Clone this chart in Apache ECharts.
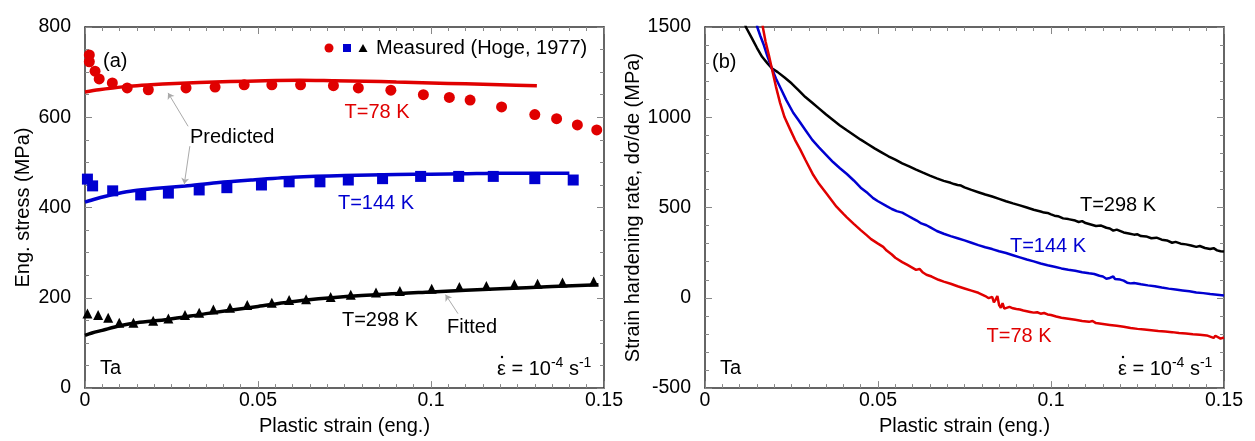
<!DOCTYPE html>
<html>
<head>
<meta charset="utf-8">
<script src="https://cdn.jsdelivr.net/npm/echarts@6/dist/echarts.min.js"></script>
<style>
html, body { margin: 0; padding: 0; background: #fff; }
#chart { width: 1255px; height: 441px; }
</style>
</head>
<body>
<div id="chart"></div>
<script>
// ---- data ----
// panel (a): measured points (Hoge, 1977)
let measured78 = [[0.00125,738],[0.00125,723],[0.0029,702],[0.0041,685],[0.0079,676],[0.0122,665],[0.0183,661],[0.0292,665],[0.0376,667],[0.046,672],[0.054,672],[0.0623,672],[0.0718,670],[0.079,665],[0.0884,660],[0.0978,650],[0.1053,644],[0.1113,638],[0.1204,623],[0.130,606],[0.1363,597],[0.1423,583],[0.1479,572]];
let measured144 = [[0.0007,463],[0.0022,448],[0.008,437],[0.0161,428],[0.0241,432],[0.033,439],[0.041,444],[0.051,450],[0.059,457],[0.0679,457],[0.0761,461],[0.086,464],[0.097,469],[0.108,469],[0.118,469],[0.130,464],[0.1411,461]];
let measured298 = [[0.0007,165],[0.0038,162],[0.0067,156],[0.0099,145],[0.014,145],[0.0197,149],[0.0241,154],[0.0289,162],[0.033,167],[0.0371,174],[0.0419,178],[0.0469,184],[0.054,189],[0.059,195],[0.0639,197],[0.071,202],[0.0768,207],[0.0841,212],[0.091,215],[0.1002,220],[0.1082,224],[0.116,226],[0.1241,230],[0.1308,231],[0.138,234],[0.147,236]];
// panel (a): model curves
let predicted78 = [[0,656],[0.004,661],[0.008,665],[0.013,669],[0.019,672],[0.026,675],[0.033,677],[0.042,679],[0.052,681],[0.062,682],[0.072,681],[0.081,680],[0.09,678],[0.1,676],[0.11,674],[0.12,672],[0.1306,670]];
let predicted144 = [[0,412],[0.003,419],[0.006,425],[0.0095,431],[0.014,437],[0.02,442],[0.029,448],[0.038,455],[0.048,461],[0.06,467],[0.075,471],[0.09,473],[0.1,474],[0.11,475],[0.12,476],[0.13,476],[0.14,476]];
let fitted298 = [[0,117],[0.002,122],[0.005,128],[0.01,138],[0.015,145],[0.024,152],[0.035,165],[0.05,181],[0.064,195],[0.08,205],[0.1,213],[0.12,220],[0.135,225],[0.1484,229]];
// panel (b): strain hardening rate
let rate298 = [[0.0105,1600],[0.0118,1500],[0.0135,1440],[0.015,1385],[0.0165,1335],[0.018,1300],[0.0193,1272],[0.021,1250],[0.023,1220],[0.025,1188],[0.027,1150],[0.029,1112],[0.031,1080],[0.0315,1083],[0.033,1048],[0.035,1015],[0.037,985],[0.039,955],[0.041,928],[0.043,902],[0.045,876],[0.047,852],[0.049,828],[0.051,806],[0.053,784],[0.055,765],[0.057,745],[0.059,728],[0.061,710],[0.063,693],[0.065,677],[0.067,662],[0.069,648],[0.071,637],[0.072,630],[0.073,625],[0.074,622],[0.075,612],[0.077,598],[0.079,585],[0.081,572],[0.083,561],[0.085,548],[0.087,535],[0.089,523],[0.091,512],[0.093,500],[0.095,488],[0.097,478],[0.098,472],[0.099,470],[0.1,462],[0.101,455],[0.102,452],[0.1035,440],[0.105,436],[0.107,428],[0.108,420],[0.109,425],[0.110,414],[0.1115,406],[0.113,398],[0.1145,400],[0.116,388],[0.117,384],[0.118,372],[0.119,378],[0.121,362],[0.1225,356],[0.124,350],[0.125,352],[0.126,342],[0.1275,340],[0.129,330],[0.1305,333],[0.132,322],[0.1335,318],[0.135,305],[0.136,310],[0.1375,300],[0.139,296],[0.1405,290],[0.142,282],[0.143,287],[0.1445,276],[0.146,270],[0.147,275],[0.148,263],[0.149,258],[0.15,256]];
let rate144 = [[0.0145,1600],[0.0151,1500],[0.016,1450],[0.017,1400],[0.018,1340],[0.0193,1272],[0.0205,1215],[0.022,1155],[0.0235,1095],[0.0255,1025],[0.027,985],[0.029,930],[0.031,875],[0.033,832],[0.035,792],[0.037,752],[0.039,718],[0.041,686],[0.043,650],[0.045,610],[0.047,580],[0.0486,552],[0.050,535],[0.0525,508],[0.054,492],[0.0554,480],[0.057,472],[0.0585,456],[0.060,440],[0.0612,428],[0.0625,412],[0.064,402],[0.065,392],[0.067,370],[0.069,355],[0.071,342],[0.073,330],[0.075,318],[0.077,305],[0.079,292],[0.081,280],[0.083,270],[0.085,258],[0.087,248],[0.089,236],[0.091,224],[0.093,212],[0.095,202],[0.097,190],[0.099,180],[0.101,172],[0.103,163],[0.105,156],[0.107,150],[0.109,142],[0.111,136],[0.1125,132],[0.114,122],[0.115,118],[0.116,106],[0.1165,97],[0.117,110],[0.118,118],[0.1185,104],[0.119,95],[0.12,101],[0.121,95],[0.122,84],[0.123,80],[0.124,82],[0.126,75],[0.128,69],[0.13,64],[0.132,57],[0.134,51],[0.136,46],[0.138,41],[0.14,36],[0.142,30],[0.144,26],[0.146,21],[0.148,17],[0.15,13]];
let rate78 = [[0.0163,1600],[0.0167,1500],[0.0175,1420],[0.0185,1340],[0.0193,1272],[0.0205,1170],[0.0217,1080],[0.023,1000],[0.0246,933],[0.026,875],[0.0275,822],[0.029,765],[0.0313,680],[0.033,630],[0.035,580],[0.0362,550],[0.038,505],[0.040,465],[0.041,446],[0.043,410],[0.045,375],[0.0467,347],[0.048,325],[0.050,300],[0.0515,282],[0.0525,262],[0.054,240],[0.055,222],[0.0555,215],[0.057,198],[0.0585,182],[0.060,166],[0.061,155],[0.062,160],[0.063,140],[0.064,128],[0.0655,118],[0.066,121],[0.0675,100],[0.069,90],[0.071,78],[0.073,64],[0.075,52],[0.077,40],[0.079,28],[0.081,10],[0.082,-2],[0.083,5],[0.0835,-25],[0.084,-10],[0.0845,10],[0.085,-40],[0.0855,-55],[0.086,-30],[0.0865,-60],[0.087,-52],[0.088,-50],[0.089,-58],[0.090,-62],[0.091,-65],[0.092,-70],[0.093,-74],[0.094,-78],[0.095,-82],[0.096,-80],[0.097,-88],[0.098,-84],[0.099,-92],[0.1,-95],[0.1015,-103],[0.103,-110],[0.105,-116],[0.107,-122],[0.109,-128],[0.111,-133],[0.112,-128],[0.113,-140],[0.115,-145],[0.117,-150],[0.119,-155],[0.121,-160],[0.123,-167],[0.125,-172],[0.127,-176],[0.129,-180],[0.131,-184],[0.133,-187],[0.135,-190],[0.137,-195],[0.139,-198],[0.141,-202],[0.143,-205],[0.145,-208],[0.146,-215],[0.147,-222],[0.1475,-210],[0.148,-213],[0.149,-226],[0.15,-220]];

// leader lines (a): [from, to] in data units
let leaderPredicted = [[[0.0298,580],[0.024,654]], [[0.0303,536],[0.0287,452]]];
let leaderFitted = [[[0.1078,165],[0.1042,207]]];

let xTicks = ['0', '0.05', '0.1', '0.15'];

const RED = '#e00000', BLUE = '#0000d0', BLACK = '#000';
const FONT = 'Liberation Sans, Arial, sans-serif';

var myChart = echarts.init(document.getElementById('chart'));

function xAx(grid, top) {
    return {
        type: 'value', gridIndex: grid, position: top ? 'top' : 'bottom',
        min: 0, max: 0.15, interval: 0.05,
        name: top ? '' : 'Plastic strain (eng.)',
        nameLocation: 'middle', nameGap: 24,
        nameTextStyle: { fontSize: 20, color: '#000', fontFamily: FONT },
        axisLine: { show: true, onZero: false, lineStyle: { color: '#333', width: 1.5 } },
        axisTick: { show: true, inside: true, length: 7, lineStyle: { color: '#888' } },
        minorTick: { show: true, splitNumber: 10, length: 4, lineStyle: { color: '#888' } },
        splitLine: { show: false },
        axisLabel: {
            show: !top, margin: 3, fontSize: 19.5, color: '#000', fontFamily: FONT,
            formatter: function (v) { return xTicks[Math.round(v / 0.05)]; }
        }
    };
}

function yAx(grid, right, min, max, interval, minor, name, gap) {
    return {
        type: 'value', gridIndex: grid, position: right ? 'right' : 'left',
        min: min, max: max, interval: interval,
        name: right ? '' : name,
        nameLocation: 'middle', nameGap: gap, nameRotate: 90,
        nameTextStyle: { fontSize: 20, color: '#000', fontFamily: FONT },
        axisLine: { show: true, onZero: false, lineStyle: { color: '#333', width: 1.5 } },
        axisTick: { show: true, inside: true, length: 7, lineStyle: { color: '#888' } },
        minorTick: { show: true, splitNumber: minor, length: 4, lineStyle: { color: '#888' } },
        splitLine: { show: false },
        axisLabel: {
            show: !right, margin: 14, fontSize: 19.5, color: '#000', fontFamily: FONT,
            formatter: function (v) { return String(v); }
        }
    };
}

function txt(x, y, s, color, align) {
    return {
        type: 'text', x: x, y: y,
        style: { text: s, fill: color || '#000', font: '20px ' + FONT, textAlign: align || 'left', textVerticalAlign: 'middle' }
    };
}

// "ε̇ = 10^-4 s^-1", left edge at xLeft, dot drawn over the epsilon
function rateLabel(xLeft, y) {
    return [{
        type: 'text', x: xLeft, y: y,
        style: {
            text: '{e|ε} = 10{s|-4} s{s|-1}',
            textAlign: 'left', textVerticalAlign: 'middle',
            font: '20px ' + FONT, fill: '#000', lineHeight: 26,
            rich: {
                e: { font: '20px ' + FONT, lineHeight: 26 },
                s: { font: '14px ' + FONT, lineHeight: 16, verticalAlign: 'top' }
            }
        }
    }, {
        type: 'circle', shape: { cx: xLeft + 5, cy: y - 12, r: 1.2 }, style: { fill: '#000' }
    }];
}

let texts = [
    txt(103, 61, '(a)'),
    txt(376, 48, 'Measured (Hoge, 1977)'),
    txt(190, 137, 'Predicted'),
    txt(377, 112, 'T=78 K', RED, 'center'),
    txt(376, 203, 'T=144 K', BLUE, 'center'),
    txt(380, 320, 'T=298 K', BLACK, 'center'),
    txt(472, 327, 'Fitted', BLACK, 'center'),
    txt(100, 368, 'Ta'),
    txt(712, 62, '(b)'),
    txt(1118, 205, 'T=298 K', BLACK, 'center'),
    txt(1048, 246, 'T=144 K', BLUE, 'center'),
    txt(1019, 336, 'T=78 K', RED, 'center'),
    txt(720, 368, 'Ta'),
    { type: 'circle', shape: { cx: 329, cy: 48, r: 4.5 }, style: { fill: RED } },
    { type: 'rect', shape: { x: 343, y: 44, width: 8, height: 8 }, style: { fill: BLUE } },
    { type: 'polygon', shape: { points: [[363, 44], [367.5, 52], [358.5, 52]] }, style: { fill: BLACK } }
].concat(rateLabel(497, 369), rateLabel(1118, 369));

function curve(data, color, w, xi, yi, smooth) {
    return {
        type: 'line', data: data, xAxisIndex: xi, yAxisIndex: yi,
        showSymbol: false, symbol: 'none', smooth: smooth || false, clip: true,
        lineStyle: { color: color, width: w }, z: 2
    };
}

function points(data, color, symbol, size) {
    return {
        type: 'scatter', data: data, xAxisIndex: 0, yAxisIndex: 0,
        symbol: symbol, symbolSize: size, itemStyle: { color: color, opacity: 1 }, z: 3
    };
}

function leaders(list) {
    return {
        type: 'lines', coordinateSystem: 'cartesian2d', xAxisIndex: 0, yAxisIndex: 0,
        data: list.map(function (c) { return { coords: c }; }),
        symbol: ['none', 'arrow'], symbolSize: 6,
        lineStyle: { color: '#aaa', width: 1, opacity: 1 }, z: 4
    };
}

myChart.setOption({
    animation: false,
    backgroundColor: '#fff',
    grid: [
        { left: 85, top: 27, width: 519, height: 363 },
        { left: 705, top: 27, width: 519, height: 363 }
    ],
    xAxis: [xAx(0, false), xAx(0, true), xAx(1, false), xAx(1, true)],
    yAxis: [
        yAx(0, false, 0, 800, 200, 4, 'Eng. stress (MPa)', 52),
        yAx(0, true, 0, 800, 200, 4, '', 0),
        yAx(1, false, -500, 1500, 500, 5, 'Strain hardening rate, dσ/de (MPa)', 58),
        yAx(1, true, -500, 1500, 500, 5, '', 0)
    ],
    graphic: texts,
    series: [
        curve(predicted78, RED, 3.5, 0, 0, 0.3),
        curve(predicted144, BLUE, 3.5, 0, 0, 0.3),
        curve(fitted298, BLACK, 3.5, 0, 0, 0.3),
        points(measured78, RED, 'circle', 11),
        points(measured144, BLUE, 'rect', 11),
        points(measured298, BLACK, 'triangle', 10),
        leaders(leaderPredicted),
        leaders(leaderFitted),
        curve(rate298, BLACK, 2.5, 2, 2),
        curve(rate144, BLUE, 2.5, 2, 2),
        curve(rate78, RED, 2.5, 2, 2)
    ]
});
</script>
</body>
</html>
